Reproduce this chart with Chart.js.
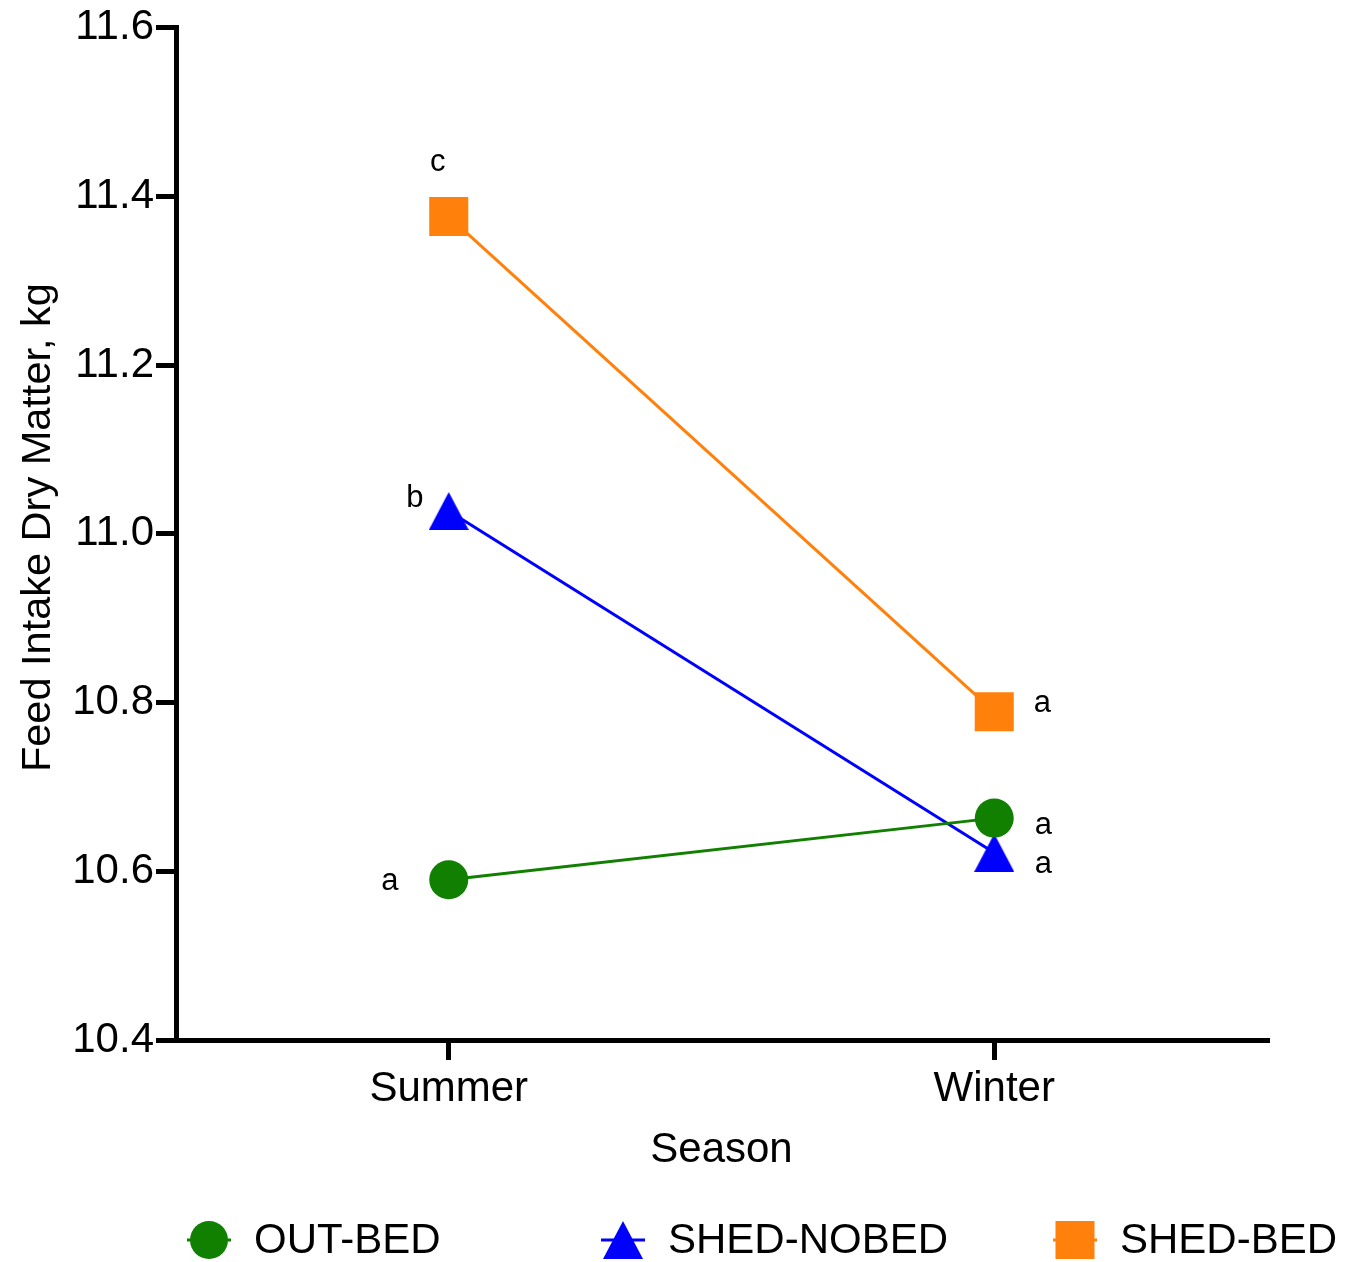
<!DOCTYPE html>
<html>
<head>
<meta charset="utf-8">
<title>Feed intake dry matter by season</title>
<script src="https://cdn.jsdelivr.net/npm/chart.js@4.4.1/dist/chart.umd.min.js"></script>
<style>
  html, body { margin: 0; padding: 0; background: #fff; }
  #wrap { width: 1345px; height: 1262px; }
</style>
</head>
<body>
<div id="wrap"><canvas id="chart" width="1345" height="1262"></canvas></div>
<script>
// Season means of dry matter intake (kg) per housing group
const seasons = ['Summer', 'Winter'];
const outBed = [10.590, 10.663];
const shedNoBed = [11.027, 10.622];
const shedBed = [11.376, 10.789];

// Significance letters per point
const outBedLetters = ['a', 'a'];
const shedNoBedLetters = ['b', 'a'];
const shedBedLetters = ['c', 'a'];

const yMin = 10.4;
const yMax = 11.6;
const yStep = 0.2;
const yTitle = 'Feed Intake Dry Matter, kg';

const FONT = '"Liberation Sans", Arial, Helvetica, sans-serif';
const GREEN = '#117F00';
const BLUE = '#0000FF';
const ORANGE = '#FF800B';

// letter offsets from each point, [dx, dy to baseline]
const letterOffsets = [
  [[-59, 10], [49, 16]],
  [[-34, -4], [49, 20]],
  [[-11, -46], [48, 0]]
];

// legend layout
const legendX = [209, 623, 1075];
const legendY = 1240;

function makeTriangle(w, h, color) {
  const c = document.createElement('canvas');
  c.width = w;
  c.height = h;
  const g = c.getContext('2d');
  g.fillStyle = color;
  g.beginPath();
  g.moveTo(w / 2, 0);
  g.lineTo(w, h);
  g.lineTo(0, h);
  g.closePath();
  g.fill();
  return c;
}

const triangle = makeTriangle(40, 38, BLUE);

function drawMarker(ctx, style, color, x, y) {
  ctx.fillStyle = color;
  if (style === 'circle') {
    ctx.beginPath();
    ctx.arc(x, y, 19, 0, Math.PI * 2);
    ctx.fill();
  } else if (style === 'rect') {
    ctx.fillRect(x - 19.5, y - 19, 39, 38);
  } else {
    ctx.drawImage(style, x - style.width / 2, y - style.height / 2);
  }
}

const letterPlugin = {
  id: 'letters',
  afterDatasetsDraw(chart) {
    const ctx = chart.ctx;
    ctx.save();
    ctx.fillStyle = '#000';
    ctx.font = '31px ' + FONT;
    ctx.textAlign = 'center';
    ctx.textBaseline = 'alphabetic';
    chart.data.datasets.forEach((ds, i) => {
      chart.getDatasetMeta(i).data.forEach((pt, j) => {
        const [dx, dy] = letterOffsets[i][j];
        ctx.fillText(ds.letters[j], pt.x + dx, pt.y + dy);
      });
    });
    ctx.restore();
  }
};

// vertical axis title, sits a little above the plot's middle
const yTitlePlugin = {
  id: 'yTitle',
  afterDraw(chart) {
    const ctx = chart.ctx;
    ctx.save();
    ctx.translate(39, chart.chartArea.top + 500);
    ctx.rotate(-Math.PI / 2);
    ctx.fillStyle = '#000';
    ctx.font = '41.5px ' + FONT;
    ctx.textAlign = 'center';
    ctx.textBaseline = 'middle';
    ctx.fillText(yTitle, 0, 0);
    ctx.restore();
  }
};

const legendPlugin = {
  id: 'bottomLegend',
  afterDraw(chart) {
    const ctx = chart.ctx;
    ctx.save();
    chart.data.datasets.forEach((ds, i) => {
      const x = legendX[i];
      ctx.strokeStyle = ds.borderColor;
      ctx.lineWidth = 3;
      ctx.beginPath();
      ctx.moveTo(x - 22, legendY);
      ctx.lineTo(x + 22, legendY);
      ctx.stroke();
      drawMarker(ctx, ds.pointStyle, ds.borderColor, x, legendY);
      ctx.fillStyle = '#000';
      ctx.font = '42px ' + FONT;
      ctx.textAlign = 'left';
      ctx.textBaseline = 'middle';
      ctx.fillText(ds.label, x + 45, legendY + 1);
    });
    ctx.restore();
  }
};

const ctx = document.getElementById('chart').getContext('2d');

new Chart(ctx, {
  type: 'line',
  data: {
    labels: seasons,
    datasets: [
      {
        label: 'OUT-BED', data: outBed, letters: outBedLetters,
        borderColor: GREEN, backgroundColor: GREEN, borderWidth: 3,
        pointStyle: 'circle', pointRadius: 19.5, pointBorderWidth: 0,
        pointBackgroundColor: GREEN
      },
      {
        label: 'SHED-NOBED', data: shedNoBed, letters: shedNoBedLetters,
        borderColor: BLUE, backgroundColor: BLUE, borderWidth: 3,
        pointStyle: triangle, pointRadius: 20, pointBorderWidth: 0,
        pointBackgroundColor: BLUE
      },
      {
        label: 'SHED-BED', data: shedBed, letters: shedBedLetters,
        borderColor: ORANGE, backgroundColor: ORANGE, borderWidth: 3,
        pointStyle: 'rect', pointRadius: 27.6, pointBorderWidth: 0,
        pointBackgroundColor: ORANGE
      }
    ]
  },
  options: {
    responsive: false,
    animation: false,
    devicePixelRatio: 1,
    layout: { padding: { top: 24, right: 78, bottom: 0, left: 0 } },
    plugins: {
      legend: { display: false },
      tooltip: { enabled: false }
    },
    scales: {
      x: {
        type: 'category',
        offset: true,
        border: { display: true, color: '#000', width: 5 },
        grid: {
          display: true, drawOnChartArea: false, drawTicks: true,
          tickLength: 20, lineWidth: 5, color: '#000'
        },
        ticks: {
          color: '#000', padding: 8,
          font: { family: FONT, size: 42, lineHeight: 1 }
        },
        title: {
          display: true, text: 'Season', color: '#000',
          font: { family: FONT, size: 42 },
          padding: { top: 0, bottom: 86 }
        },
        afterFit(scale) { scale.height = 222; }
      },
      y: {
        min: yMin,
        max: yMax,
        border: { display: true, color: '#000', width: 5 },
        grid: {
          display: true, drawOnChartArea: false, drawTicks: true,
          tickLength: 20, lineWidth: 5, color: '#000'
        },
        ticks: {
          stepSize: yStep, color: '#000', padding: 2,
          font: { family: FONT, size: 42, lineHeight: 0.8 },
          callback: (v) => Number(v).toFixed(1)
        },
        afterFit(scale) {
          scale.width = 176;
          scale.paddingTop = 0;
        }
      }
    }
  },
  plugins: [letterPlugin, yTitlePlugin, legendPlugin]
});
</script>
</body>
</html>
